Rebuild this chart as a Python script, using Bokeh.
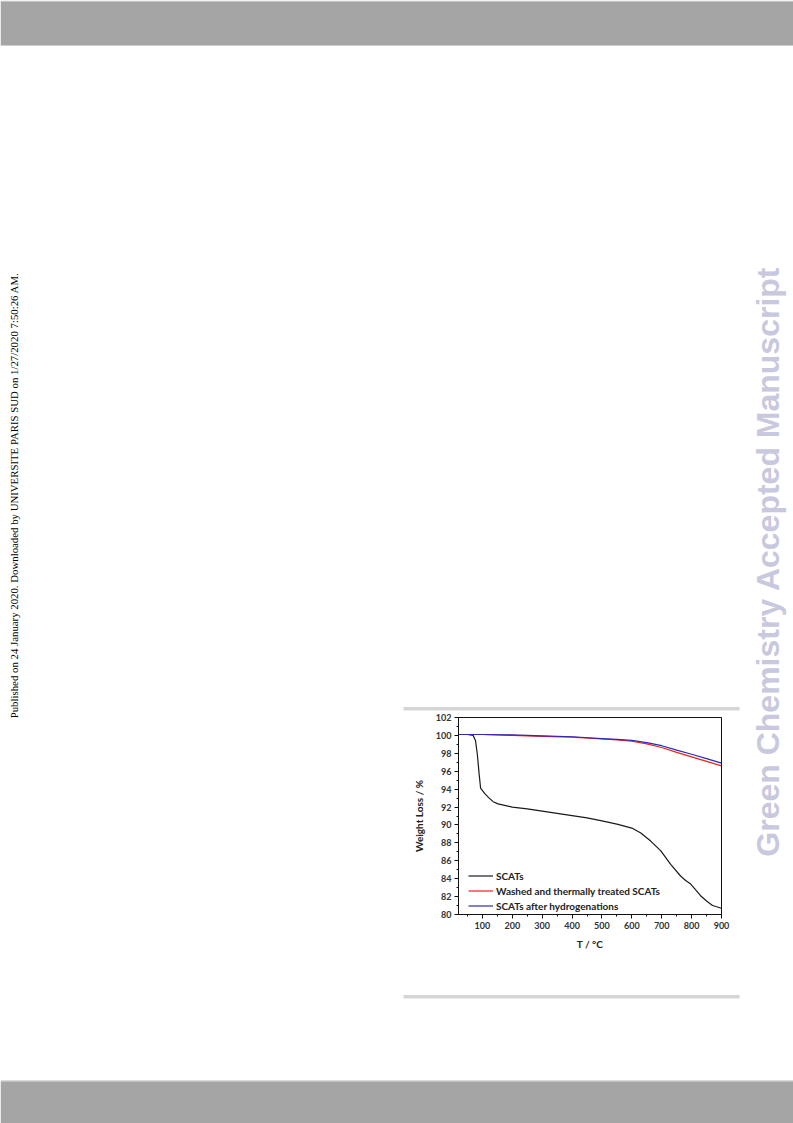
import numpy as np
from bokeh.plotting import figure
from bokeh.models import Range1d, SingleIntervalTicker, Label, Legend, LegendItem
from bokeh.embed import file_html
from bokeh.resources import INLINE

# ---------------- data ----------------
temp_scats = [21, 50, 69, 77, 83, 89, 94, 108, 121, 136, 152, 200, 250, 300, 350, 400,
              450, 500, 550, 600, 630, 663, 697, 730, 763, 780, 797, 810, 830, 850, 870, 900]
weight_scats = [100.1, 100.1, 100.0, 99.4, 97.9, 95.7, 94.1, 93.5, 93.05, 92.6, 92.35, 92.0,
                91.8, 91.55, 91.3, 91.05, 90.8, 90.45, 90.1, 89.65, 89.1, 88.2, 87.1, 85.6,
                84.3, 83.8, 83.4, 82.9, 82.1, 81.5, 81.0, 80.7]
temp_washed = [21, 100, 200, 300, 400, 500, 550, 600, 650, 700, 750, 800, 850, 900]
weight_washed = [100.1, 100.1, 100.0, 99.9, 99.8, 99.6, 99.5, 99.35, 99.05, 98.65, 98.1, 97.6, 97.1, 96.6]
temp_hydro = [21, 100, 200, 300, 400, 500, 550, 600, 650, 700, 750, 800, 850, 900]
weight_hydro = [100.1, 100.1, 100.05, 99.95, 99.85, 99.65, 99.55, 99.45, 99.2, 98.85, 98.35, 97.9, 97.4, 96.9]
series_names = ["SCATs", "Washed and thermally treated SCATs", "SCATs after hydrogenations"]
series_colors = ["#1a1a1a", "#e8231f", "#2b2bb8"]
x_label = "T / °C"
y_label = "Weight Loss / %"
side_note = "Published on 24 January 2020. Downloaded by UNIVERSITE PARIS SUD on 1/27/2020 7:50:26 AM."
watermark = "Green Chemistry Accepted Manuscript"

PAGE_W, PAGE_H = 793, 1123
FL, FR, FT, FB = 458, 721, 717, 914   # chart frame in page pixels

# ---------------- page background figure (page pixel coordinates) ----------------
bg = figure(width=PAGE_W, height=PAGE_H, output_backend="svg", toolbar_location=None,
            x_range=Range1d(0, PAGE_W), y_range=Range1d(PAGE_H, 0),
            x_axis_type=None, y_axis_type=None, min_border=0)
bg.styles = {"position": "absolute", "left": "0px", "top": "0px"}
bg.outline_line_color = None
bg.grid.visible = False
bg.background_fill_color = "white"
bg.border_fill_color = "white"

band_left = [0, 0, 0, 0, 0, 403, 403]
band_right = [PAGE_W, PAGE_W, PAGE_W, PAGE_W, PAGE_W, 739, 739]
band_top = [0, 1, 44.5, 1080, 1081, 706.5, 994.5]
band_bottom = [1, 44.5, 45.5, 1081, PAGE_H, 710, 998]
band_color = ["#c8c8c8", "#a5a5a5", "#cfcfcf", "#b8b8b8", "#a5a5a5", "#d5d5d5", "#d5d5d5"]
bg.quad(left=band_left, right=band_right, top=band_top, bottom=band_bottom,
        fill_color=band_color, line_color=None)

bg.add_layout(Label(x=13, y=495, text=side_note, angle=np.pi / 2,
                    text_align="center", text_baseline="middle",
                    text_font="Liberation Serif", text_font_size="10.8px", text_color="#000000"))
bg.add_layout(Label(x=767, y=561, text=watermark, angle=np.pi / 2,
                    text_align="center", text_baseline="middle",
                    text_font="Liberation Sans", text_font_style="bold",
                    text_font_size="32px", text_color="#c8c8de"))

# ---------------- chart figure (transparent border, overlaid) ----------------
p = figure(width=PAGE_W, height=PAGE_H, output_backend="svg", toolbar_location=None,
           x_range=Range1d(20, 900), y_range=Range1d(80, 102),
           min_border_left=FL, min_border_right=PAGE_W - FR,
           min_border_top=FT, min_border_bottom=PAGE_H - FB)
p.styles = {"position": "absolute", "left": "0px", "top": "0px"}
p.background_fill_color = "white"
p.border_fill_alpha = 0
p.outline_line_color = "#111111"
p.outline_line_width = 1
p.grid.visible = False

r1 = p.line(temp_scats, weight_scats, line_color=series_colors[0], line_width=1.2)
r2 = p.line(temp_washed, weight_washed, line_color=series_colors[1], line_width=1.2)
r3 = p.line(temp_hydro, weight_hydro, line_color=series_colors[2], line_width=1.2)

legend = Legend(items=[LegendItem(label=series_names[0], renderers=[r1]),
                       LegendItem(label=series_names[1], renderers=[r2]),
                       LegendItem(label=series_names[2], renderers=[r3])],
                location=(10, 1), background_fill_alpha=0, border_line_alpha=0,
                padding=0, margin=0, spacing=0, glyph_width=25, glyph_height=15,
                label_height=15, label_standoff=3, label_text_font="Lato",
                label_text_font_style="bold", label_text_font_size="10px",
                label_text_color="#222222")
p.add_layout(legend)

p.xaxis.ticker = SingleIntervalTicker(interval=100, num_minor_ticks=2)
p.yaxis.ticker = SingleIntervalTicker(interval=2, num_minor_ticks=2)
for ax in (p.xaxis, p.yaxis):
    ax.axis_line_color = "#111111"
    ax.major_tick_line_color = "#111111"
    ax.minor_tick_line_color = "#111111"
    ax.major_tick_in = 0
    ax.major_tick_out = 4
    ax.minor_tick_in = 0
    ax.minor_tick_out = 2
    ax.major_label_text_font = "Lato"
    ax.major_label_text_font_style = "bold"
    ax.major_label_text_font_size = "9px"
    ax.major_label_text_color = "#333333"
    ax.major_label_standoff = 3
    ax.axis_label_text_font = "Lato"
    ax.axis_label_text_font_style = "bold"
    ax.axis_label_text_font_size = "10px"
    ax.axis_label_text_color = "#222222"
p.xaxis.axis_label = x_label
p.yaxis.axis_label = y_label
p.xaxis.axis_label_standoff = 6
p.yaxis.axis_label_standoff = 8

# two stacked roots: page background underneath, chart on top
open("out.html", "w").write(file_html([bg, p], INLINE))
